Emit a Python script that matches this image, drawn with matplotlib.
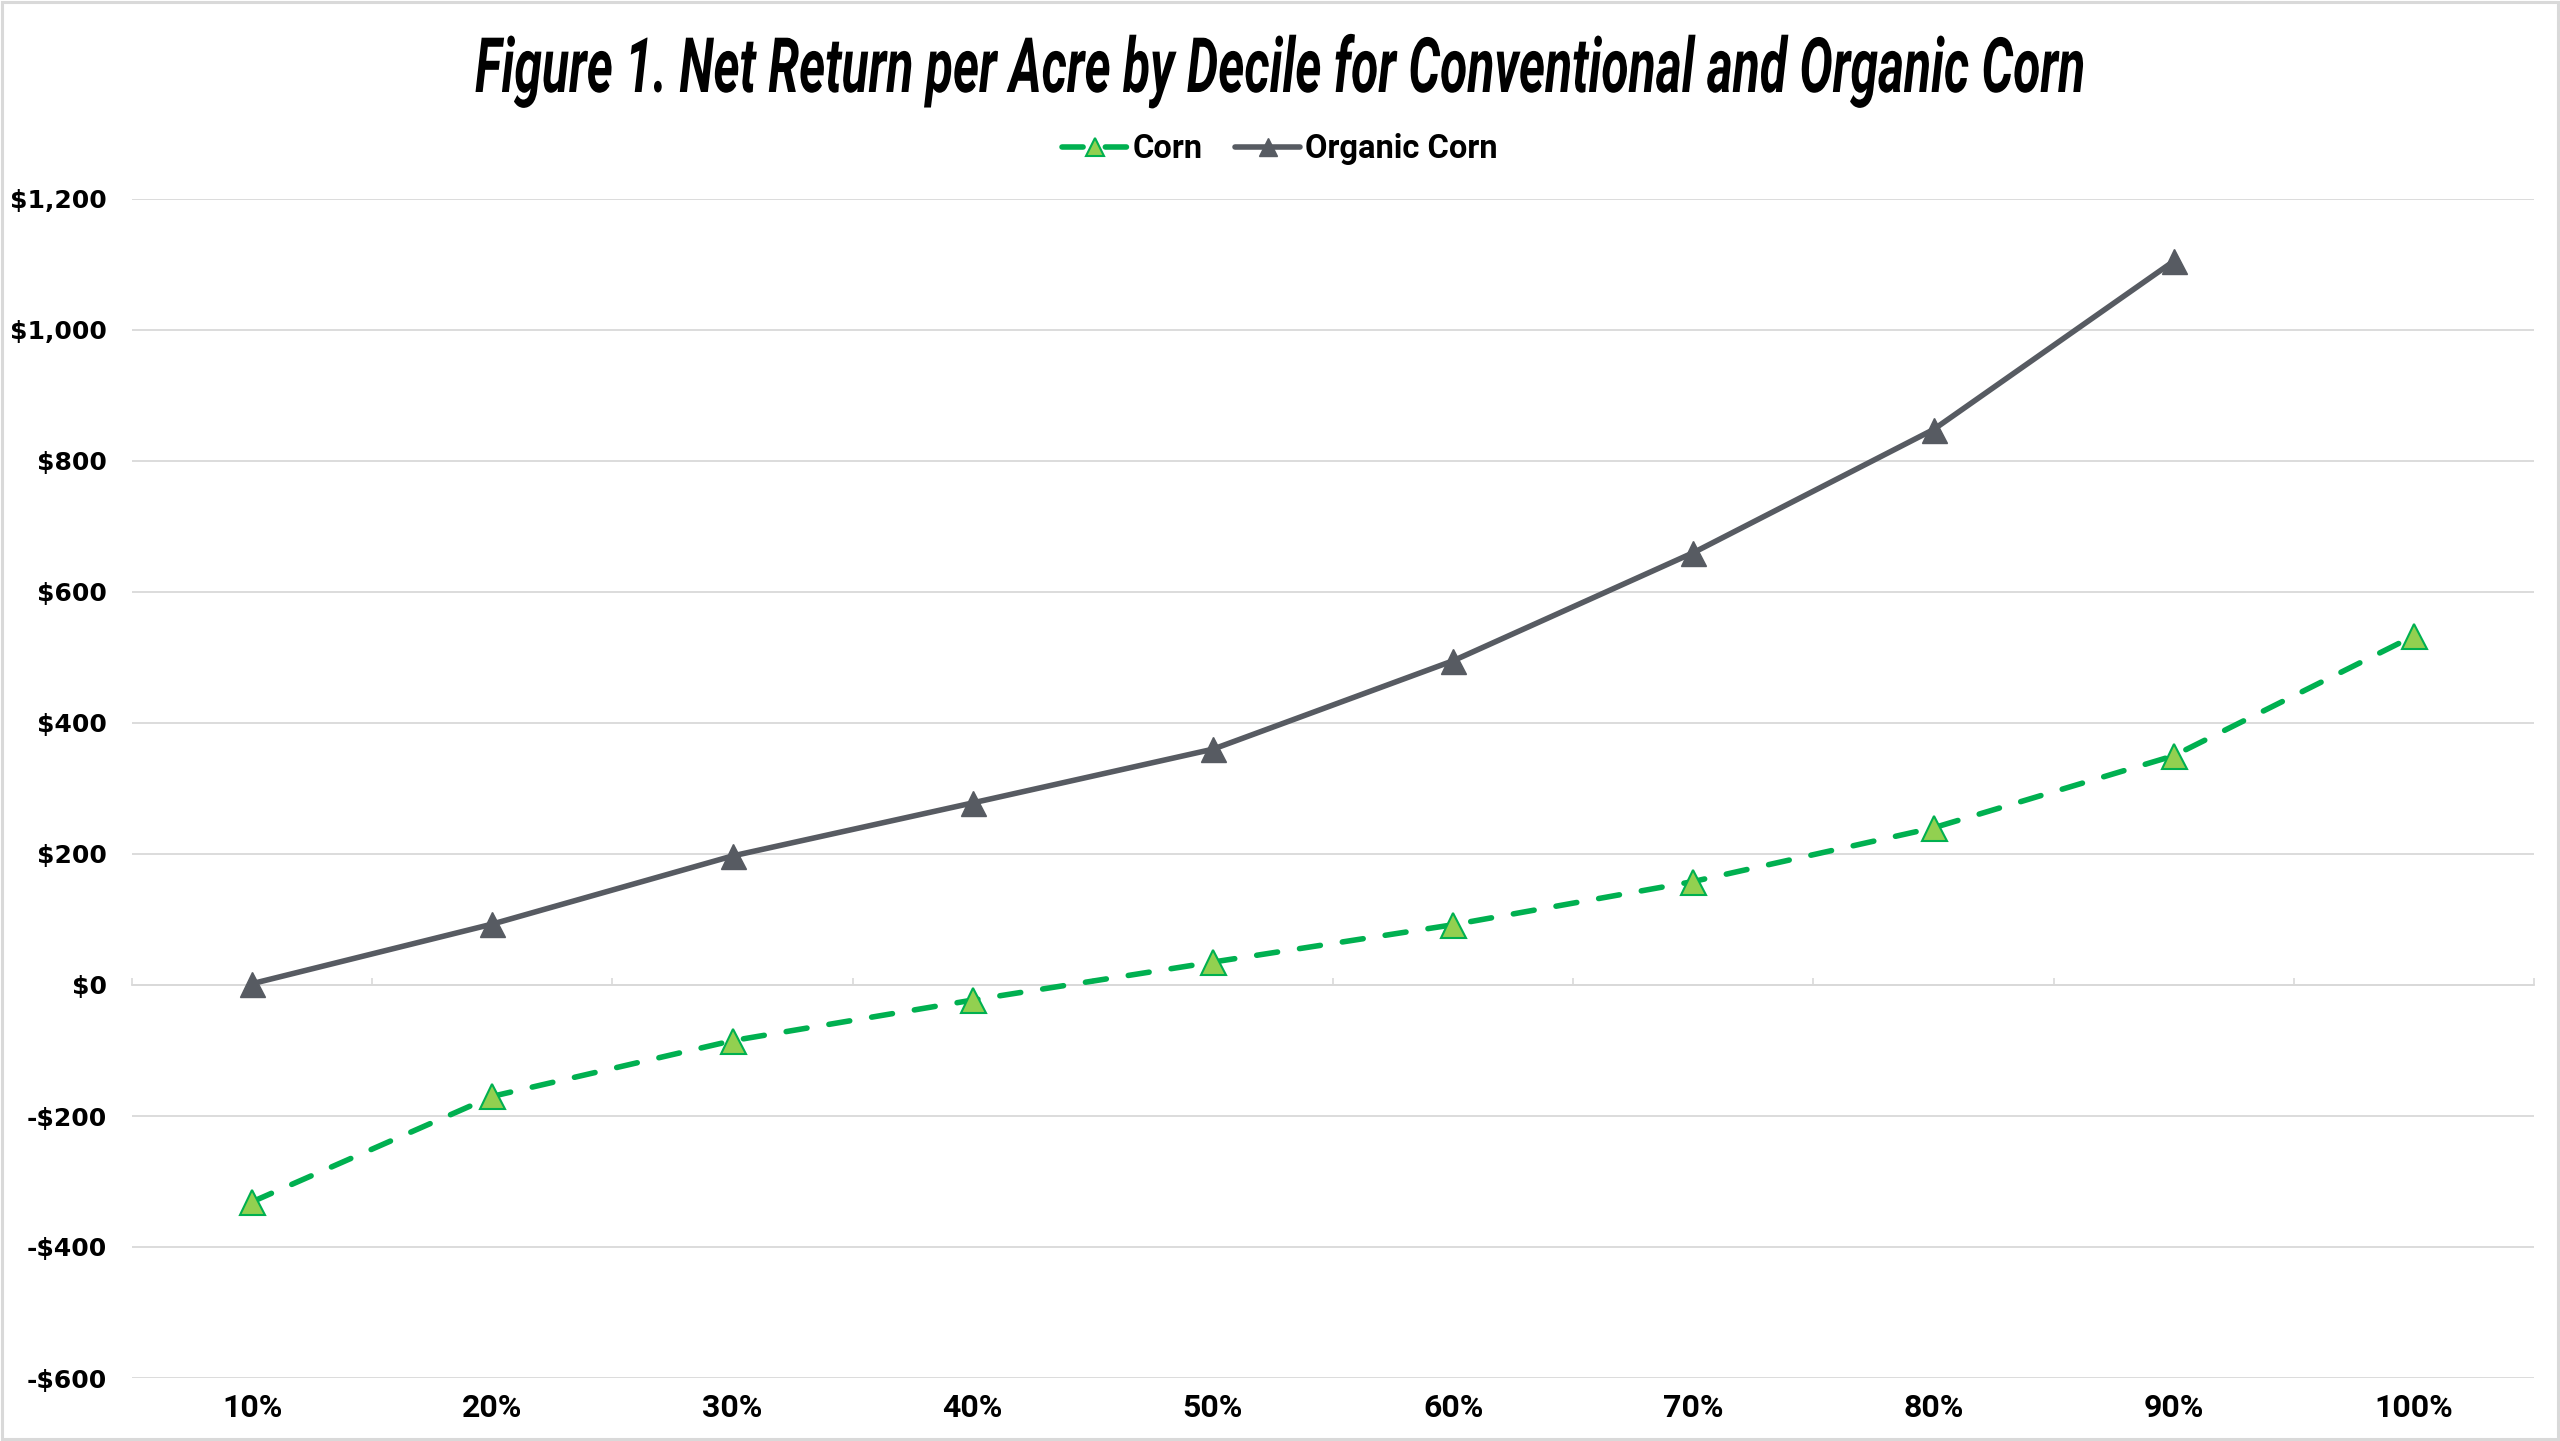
import matplotlib
matplotlib.use("Agg")
import matplotlib.pyplot as plt
from matplotlib.patheffects import AbstractPathEffect
from matplotlib.transforms import Affine2D
from matplotlib.patches import Rectangle
import numpy as np

# data
deciles = ['10%', '20%', '30%', '40%', '50%', '60%', '70%', '80%', '90%', '100%']
corn = [-331, -170, -85, -23, 35, 92, 158, 240, 350, 533]
organic_corn = [2, 93, 197, 278, 360, 495, 660, 848, 1105, np.nan]
y_ticks = [-600, -400, -200, 0, 200, 400, 600, 800, 1000, 1200]

title_text = 'Figure 1. Net Return per Acre by Decile for Conventional and Organic Corn'

GRAY = '#575b62'
GREEN = '#00b050'
LIGHT_GREEN = '#92d050'
GRID = '#d9d9d9'


class SqueezeX(AbstractPathEffect):
    # squeeze text horizontally around a display x position (condensed look)
    def __init__(self, sx, cx):
        super().__init__()
        self.sx = sx
        self.cx = cx

    def draw_path(self, renderer, gc, tpath, affine, rgbFace=None):
        squeeze = Affine2D().translate(-self.cx, 0).scale(self.sx, 1).translate(self.cx, 0)
        renderer.draw_path(gc, tpath, affine + squeeze, rgbFace)


fig = plt.figure(figsize=(25.6, 14.41), dpi=100)
ax = fig.add_axes([132 / 2560, 63 / 1441, (2534 - 132) / 2560, (1378 - 199) / 1441])

x = np.arange(len(deciles))
ax.plot(x, corn, color=GREEN, lw=4, linestyle=(0, (3.8, 4.0)), dash_capstyle='round',
        marker='^', markersize=18, markerfacecolor=LIGHT_GREEN, markeredgecolor=GREEN,
        markeredgewidth=1.5, label='Corn', zorder=3)
ax.plot(x, organic_corn, color=GRAY, lw=4, solid_capstyle='round',
        marker='^', markersize=18, markerfacecolor=GRAY, markeredgecolor=GRAY,
        label='Organic Corn', zorder=3)

ax.set_xlim(-0.5, len(deciles) - 0.5)
ax.set_ylim(y_ticks[0], y_ticks[-1])
ax.set_yticks(y_ticks)
ax.set_yticklabels([('-$' if v < 0 else '$') + f'{abs(v):,}' for v in y_ticks],
                   fontfamily='DejaVu Sans', fontweight='bold', fontsize=18)
ax.set_xticks(x)
ax.set_xticklabels(deciles, fontfamily=['Roboto', 'DejaVu Sans'], fontweight='bold', fontsize=23)
ax.tick_params(axis='both', length=0)
ax.tick_params(axis='y', pad=18)
ax.tick_params(axis='x', pad=11)
ax.grid(axis='y', color=GRID, lw=1.3)
ax.set_axisbelow(True)
for s in ax.spines.values():
    s.set_visible(False)

# horizontal axis line crossing at zero with boundary ticks
sec = ax.secondary_xaxis(0, transform=ax.transData)
sec.set_xticks(np.arange(len(deciles) + 1) - 0.5)
sec.tick_params(direction='in', length=5, width=1.2, color=GRID, labelbottom=False)
sec.spines['bottom'].set_color(GRID)
sec.spines['bottom'].set_linewidth(1.3)

leg = fig.legend(loc='center', bbox_to_anchor=(0.5, 1 - 149 / 1441), ncol=2, frameon=False,
                 numpoints=1, handlelength=2.0, handletextpad=0.15, columnspacing=1.0,
                 prop={'family': ['Roboto', 'DejaVu Sans'], 'weight': 'bold', 'size': 23.5})
for h in leg.legend_handles:
    h.set_markersize(13)

title = fig.text(0.5, 1 - 92 / 1441, title_text, ha='center', va='baseline',
                 fontsize=55, fontweight='bold', fontstyle='italic',
                 family=['Roboto', 'DejaVu Sans'])

fig.patches.append(Rectangle((0.0008, 0.0012), 0.9984, 0.9976, transform=fig.transFigure,
                             fill=False, edgecolor=GRID, lw=2.2))

fig.canvas.draw()
w = title.get_window_extent().width
title.set_path_effects([SqueezeX(1610 / w, fig.bbox.width / 2)])

fig.savefig('out.png', dpi=100)
